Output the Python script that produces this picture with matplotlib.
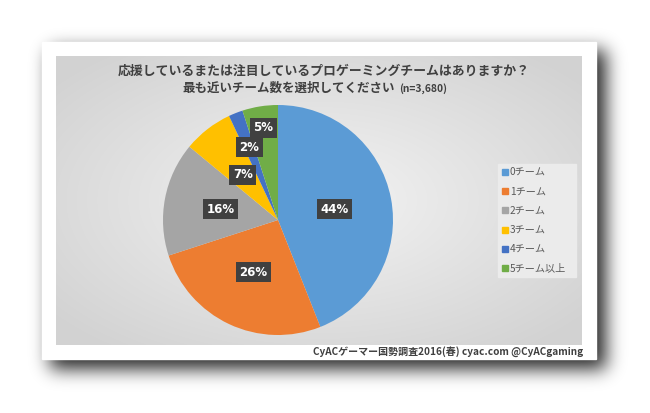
import numpy as np
import matplotlib
matplotlib.use('Agg')
import matplotlib.pyplot as plt
from matplotlib.patches import Rectangle

plt.rcParams['font.family'] = ['Noto Sans CJK JP', 'DejaVu Sans']

title1 = '応援しているまたは注目しているプロゲーミングチームはありますか？'
title2 = '最も近いチーム数を選択してください'
sample = '(n=3,680)'
labels = ['0チーム', '1チーム', '2チーム', '3チーム', '4チーム', '5チーム以上']
values = [44, 26, 16, 7, 2, 5]
colors = ['#5B9BD5', '#ED7D31', '#A5A5A5', '#FFC000', '#4472C4', '#70AD47']
footer = 'CyACゲーマー国勢調査2016(春) cyac.com @CyACgaming'

W, H = 650, 413
fig = plt.figure(figsize=(W / 100, H / 100), dpi=100)
ax = fig.add_axes([0, 0, 1, 1])
ax.set_xlim(0, W)
ax.set_ylim(0, H)
ax.axis('off')

def fy(y):
    # image y (top-down) -> plot y
    return H - y

# card and panel in image pixels
cx0, cy0, cx1, cy1 = 42, 42, 596, 359
px0, py0, px1, py1 = 56, 56, 582, 345

# drop shadow: blurred rectangle
def gauss_blur(a, s):
    r = int(3 * s)
    k = np.exp(-np.arange(-r, r + 1) ** 2 / (2 * s * s))
    k /= k.sum()
    a = np.apply_along_axis(lambda m: np.convolve(m, k, mode='same'), 0, a)
    a = np.apply_along_axis(lambda m: np.convolve(m, k, mode='same'), 1, a)
    return a

mask = np.zeros((H, W))
mask[cy0 + 8:cy1 + 10, cx0 + 8:cx1 + 10] = 1.0
sh = gauss_blur(mask, 9)
rgba = np.zeros((H, W, 4))
rgba[..., 3] = np.clip(sh * 0.85, 0, 1)
ax.imshow(rgba, extent=[0, W, 0, H], zorder=0, interpolation='bilinear')

ax.add_patch(Rectangle((cx0, fy(cy1)), cx1 - cx0, cy1 - cy0, color='white', zorder=1))

# panel radial gradient
gw, gh = px1 - px0, py1 - py0
gx, gy = np.meshgrid(np.linspace(-1, 1, gw), np.linspace(-1, 1, gh))
d = np.clip(np.sqrt(gx ** 2 + gy ** 2) / 1.3, 0, 1)
g = 0.955 - 0.13 * d
img = np.dstack([g, g, g])
ax.imshow(img, extent=[px0, px1, fy(py1), fy(py0)], zorder=2, interpolation='bilinear')

# titles
ax.text(324, fy(71), title1, ha='center', va='center', fontsize=9.3,
        fontweight='bold', color='#404040', zorder=5)
ax.text(395, fy(88), title2, ha='right', va='center', fontsize=9.0,
        fontweight='bold', color='#404040', zorder=5)
ax.text(399, fy(88.5), sample, ha='left', va='center', fontsize=7.4,
        fontweight='bold', color='#404040', zorder=5)

# pie
center = (278, fy(220))
radius = 115
wedges, _ = ax.pie(values, colors=colors, startangle=90, counterclock=False,
                   center=center, radius=radius, frame=True,
                   wedgeprops=dict(linewidth=0, zorder=3))
ax.set_xlim(0, W)
ax.set_ylim(0, H)
ax.set_aspect('equal')
ax.axis('off')

label_dist = [0.5, 0.5, 0.51, 0.5, 0.68, 0.81]
for w, v, ld in zip(wedges, values, label_dist):
    ang = np.deg2rad((w.theta1 + w.theta2) / 2)
    x = center[0] + ld * radius * np.cos(ang)
    y = center[1] + ld * radius * np.sin(ang)
    ax.text(x, y, f'{v}%', ha='center', va='center', fontsize=8.5,
            fontweight='bold', color='white', family='DejaVu Sans', zorder=6,
            bbox=dict(boxstyle='square,pad=0.3', fc='#404040', ec='none'))

# legend
ax.add_patch(Rectangle((498, fy(277)), 78, 113, color='#ebebeb', zorder=3))
for i, (lab, c) in enumerate(zip(labels, colors)):
    yy = fy(172 + i * 19.2)
    ax.add_patch(Rectangle((502, yy - 3), 6, 6, color=c, zorder=4))
    ax.text(510, yy, lab, ha='left', va='center', fontsize=7.3,
            color='#595959', zorder=5)

# footer
ax.text(583, fy(352), footer, ha='right', va='center', fontsize=7.2,
        fontweight='bold', color='#404040', zorder=5)

fig.savefig('out.png', dpi=100, facecolor='white')
